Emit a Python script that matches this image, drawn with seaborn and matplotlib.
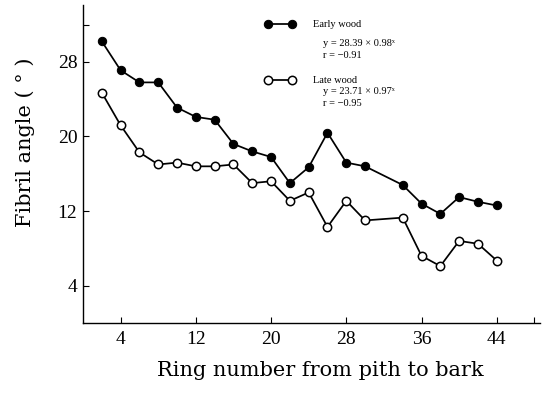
import matplotlib
matplotlib.use("Agg")
import matplotlib.pyplot as plt
import seaborn as sns
import pandas as pd

rings = [2, 4, 6, 8, 10, 12, 14, 16, 18, 20, 22, 24, 26, 28, 30, 34, 36, 38, 40, 42, 44]
early_wood = [30.2, 27.1, 25.8, 25.8, 23.1, 22.1, 21.8, 19.2, 18.4, 17.8, 15.0, 16.7,
              20.4, 17.2, 16.8, 14.8, 12.8, 11.7, 13.5, 13.0, 12.6]
late_wood = [24.7, 21.2, 18.3, 17.0, 17.2, 16.8, 16.8, 17.0, 15.0, 15.2, 13.1, 14.0,
             10.3, 13.1, 11.0, 11.3, 7.2, 6.1, 8.8, 8.5, 6.7]
x_ticks = [4, 12, 20, 28, 36, 44]
y_ticks = [4, 12, 20, 28]
series_labels = ["Early wood", "Late wood"]
equations = [["y = 28.39 × 0.98ˣ", "r = −0.91"], ["y = 23.71 × 0.97ˣ", "r = −0.95"]]

df = pd.DataFrame({"ring": rings, "early": early_wood, "late": late_wood})

sns.set_style("ticks")
plt.rcParams["font.family"] = ["Liberation Serif", "DejaVu Serif"]
for k in ["text.color", "axes.labelcolor", "xtick.color", "ytick.color", "axes.edgecolor"]:
    plt.rcParams[k] = "black"

fig = plt.figure(figsize=(5.51, 3.96), dpi=100)
ax = fig.add_axes([83 / 551, 1 - 323 / 396, (540 - 83) / 551, (323 - 5) / 396])

sns.lineplot(data=df, x="ring", y="early", ax=ax, color="black", lw=1.25,
             marker="o", markersize=6, markerfacecolor="black", markeredgecolor="black",
             label=series_labels[0])
sns.lineplot(data=df, x="ring", y="late", ax=ax, color="black", lw=1.25,
             marker="o", markersize=6, markerfacecolor="white", markeredgecolor="black",
             markeredgewidth=1.1, label=series_labels[1])

ax.set_xlim(0, 48.6)
ax.set_ylim(0, 34.1)
ax.set_xticks(x_ticks)
ax.set_yticks(y_ticks)
ax.set_xticks([48], minor=True)
ax.set_yticks([32], minor=True)
ax.tick_params(axis="both", which="both", direction="in", length=4, width=0.8,
               labelsize=14, pad=6, colors="black")
ax.tick_params(axis="y", pad=4)
for s in ["top", "right"]:
    ax.spines[s].set_visible(False)
for s in ["left", "bottom"]:
    ax.spines[s].set_linewidth(1.0)
    ax.spines[s].set_color("black")

label_font = ["DejaVu Serif"]
ax.set_xlabel("Ring number from pith to bark", fontsize=15, family=label_font)
ax.set_ylabel("Fibril angle ( ° )", fontsize=15, family=label_font)
ax.xaxis.set_label_coords((320 - 83) / 457, (323 - 371) / 318)
ax.yaxis.set_label_coords((25 - 83) / 457, (323 - 142) / 318)
ax.xaxis.label.set_va("center")
ax.yaxis.label.set_va("center")

leg = ax.legend(loc="upper left", bbox_to_anchor=((265 - 83) / 457, 1 - (20 - 5) / 318),
                frameon=False, fontsize=7.5, handlelength=2.9, numpoints=2,
                labelspacing=4.5, handletextpad=1.7, borderaxespad=0, borderpad=0)

for i, lines in enumerate(equations):
    base = 43 if i == 0 else 92
    for j, t in enumerate(lines):
        py = base + j * 12
        fig.text(323 / 551, 1 - py / 396, t, fontsize=7.5, va="center", ha="left")

fig.savefig("out.png", dpi=100)
